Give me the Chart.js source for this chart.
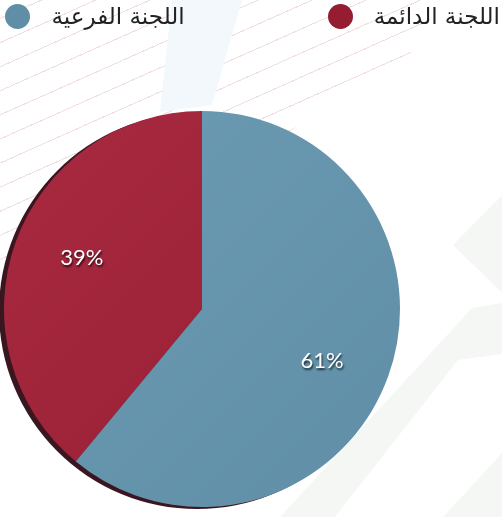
<!DOCTYPE html>
<html>
<head>
<meta charset="utf-8">
<script src="https://cdn.jsdelivr.net/npm/chart.js@4/dist/chart.umd.min.js"></script>
<style>
  body { margin: 0; background: #fff; }
  #wrap { position: relative; width: 502px; height: 517px; overflow: hidden; }
  .deco { position: absolute; left: 0; top: 0; width: 502px; height: 517px; }
  #lines {
    background: repeating-linear-gradient(-24deg, transparent 0px, transparent 21px, rgba(222,180,184,0.45) 21px, rgba(222,180,184,0.45) 22px);
    clip-path: polygon(0 0, 430px 0, 430px 40px, 0 320px);
  }
  #band { background: #f3f8fc; clip-path: polygon(172px 0, 242px 0, 212px 105px, 160px 112px); }
  .verde { background: #f5f7f5; }
  #g1 { clip-path: polygon(502px 195px, 453px 245px, 502px 293px); }
  #g2 { clip-path: polygon(502px 303px, 472px 308px, 280px 517px, 335px 517px, 458px 360px, 502px 354px); }
  #g3 { clip-path: polygon(502px 453px, 443px 517px, 502px 517px); }
  #legend {
    position: absolute; top: 3px; right: 2px;
    display: flex; direction: rtl; gap: 143px;
    font-family: "DejaVu Sans", sans-serif; font-size: 23px; color: #222;
  }
  .item { display: flex; direction: ltr; align-items: center; gap: 21px; }
  .dot { width: 25px; height: 25px; border-radius: 50%; }
  canvas { position: absolute; left: 0; top: 0; }
</style>
</head>
<body>
<div id="wrap">
  <div class="deco" id="lines"></div>
  <div class="deco" id="band"></div>
  <div class="deco verde" id="g1"></div>
  <div class="deco verde" id="g2"></div>
  <div class="deco verde" id="g3"></div>
  <canvas id="canvas" width="502" height="517"></canvas>
  <div id="legend"></div>
</div>
<script>
// البيانات
const labels = ["اللجنة الدائمة", "اللجنة الفرعية"];
const values = [39, 61];
const colores = ["#961d31", "#5f8ea6"];
const coloresClaros = ["#a82a41", "#6c9cb4"];

// Leyenda en html
const legendDom = document.getElementById("legend");
labels.forEach((l, i) => {
  legendDom.insertAdjacentHTML(
    "beforeEnd",
    `<div class="item"><span class="dot" style="background:${colores[i]}"></span><span dir="rtl">${l}</span></div>`
  );
});

const total = values.reduce((a, b) => a + b, 0);

// borde oscuro detras del pie
const sombraPie = {
  id: "sombraPie",
  beforeDatasetsDraw(chart) {
    const arc = chart.getDatasetMeta(0).data[0];
    const ctx = chart.ctx;
    ctx.save();
    ctx.fillStyle = "#3a1620";
    ctx.beginPath();
    ctx.ellipse(arc.x - 5, arc.y + 2, arc.outerRadius, arc.outerRadius, 0, 0, Math.PI * 2);
    ctx.fill();
    ctx.restore();
  },
};

// porcentajes
const etiquetas = {
  id: "etiquetas",
  afterDatasetsDraw(chart) {
    const ctx = chart.ctx;
    chart.getDatasetMeta(0).data.forEach((arc, i) => {
      const ang = (arc.startAngle + arc.endAngle) / 2 + 0.06;
      const r = arc.outerRadius * 0.66;
      const x = arc.x + Math.cos(ang) * r;
      const y = arc.y + Math.sin(ang) * r;
      ctx.save();
      ctx.font = "22px Lato, sans-serif";
      ctx.textAlign = "center";
      ctx.textBaseline = "middle";
      ctx.fillStyle = "#fff";
      ctx.shadowColor = "rgba(0,0,0,0.7)";
      ctx.shadowOffsetX = 1;
      ctx.shadowOffsetY = 2;
      ctx.shadowBlur = 2;
      ctx.fillText(Math.round((values[i] / total) * 100) + "%", x, y);
      ctx.restore();
    });
  },
};

const ctx = document.getElementById("canvas").getContext("2d");
window.myPie = new Chart(ctx, {
  type: "pie",
  data: {
    labels: labels,
    datasets: [
      {
        data: values,
        backgroundColor: (c) => {
          const area = c.chart.chartArea;
          if (!area) return colores[c.dataIndex];
          const g = c.chart.ctx.createLinearGradient(area.left, area.top, area.right, area.bottom);
          g.addColorStop(0, coloresClaros[c.dataIndex]);
          g.addColorStop(1, colores[c.dataIndex]);
          return g;
        },
        borderWidth: 0,
        hoverOffset: 0,
      },
    ],
  },
  plugins: [sombraPie, etiquetas],
  options: {
    responsive: false,
    animation: false,
    rotation: -360 * values[0] / total,
    layout: { padding: { left: 4, right: 102, top: 111, bottom: 10 } },
    plugins: {
      legend: { display: false },
      tooltip: { enabled: false },
    },
  },
});
</script>
</body>
</html>
